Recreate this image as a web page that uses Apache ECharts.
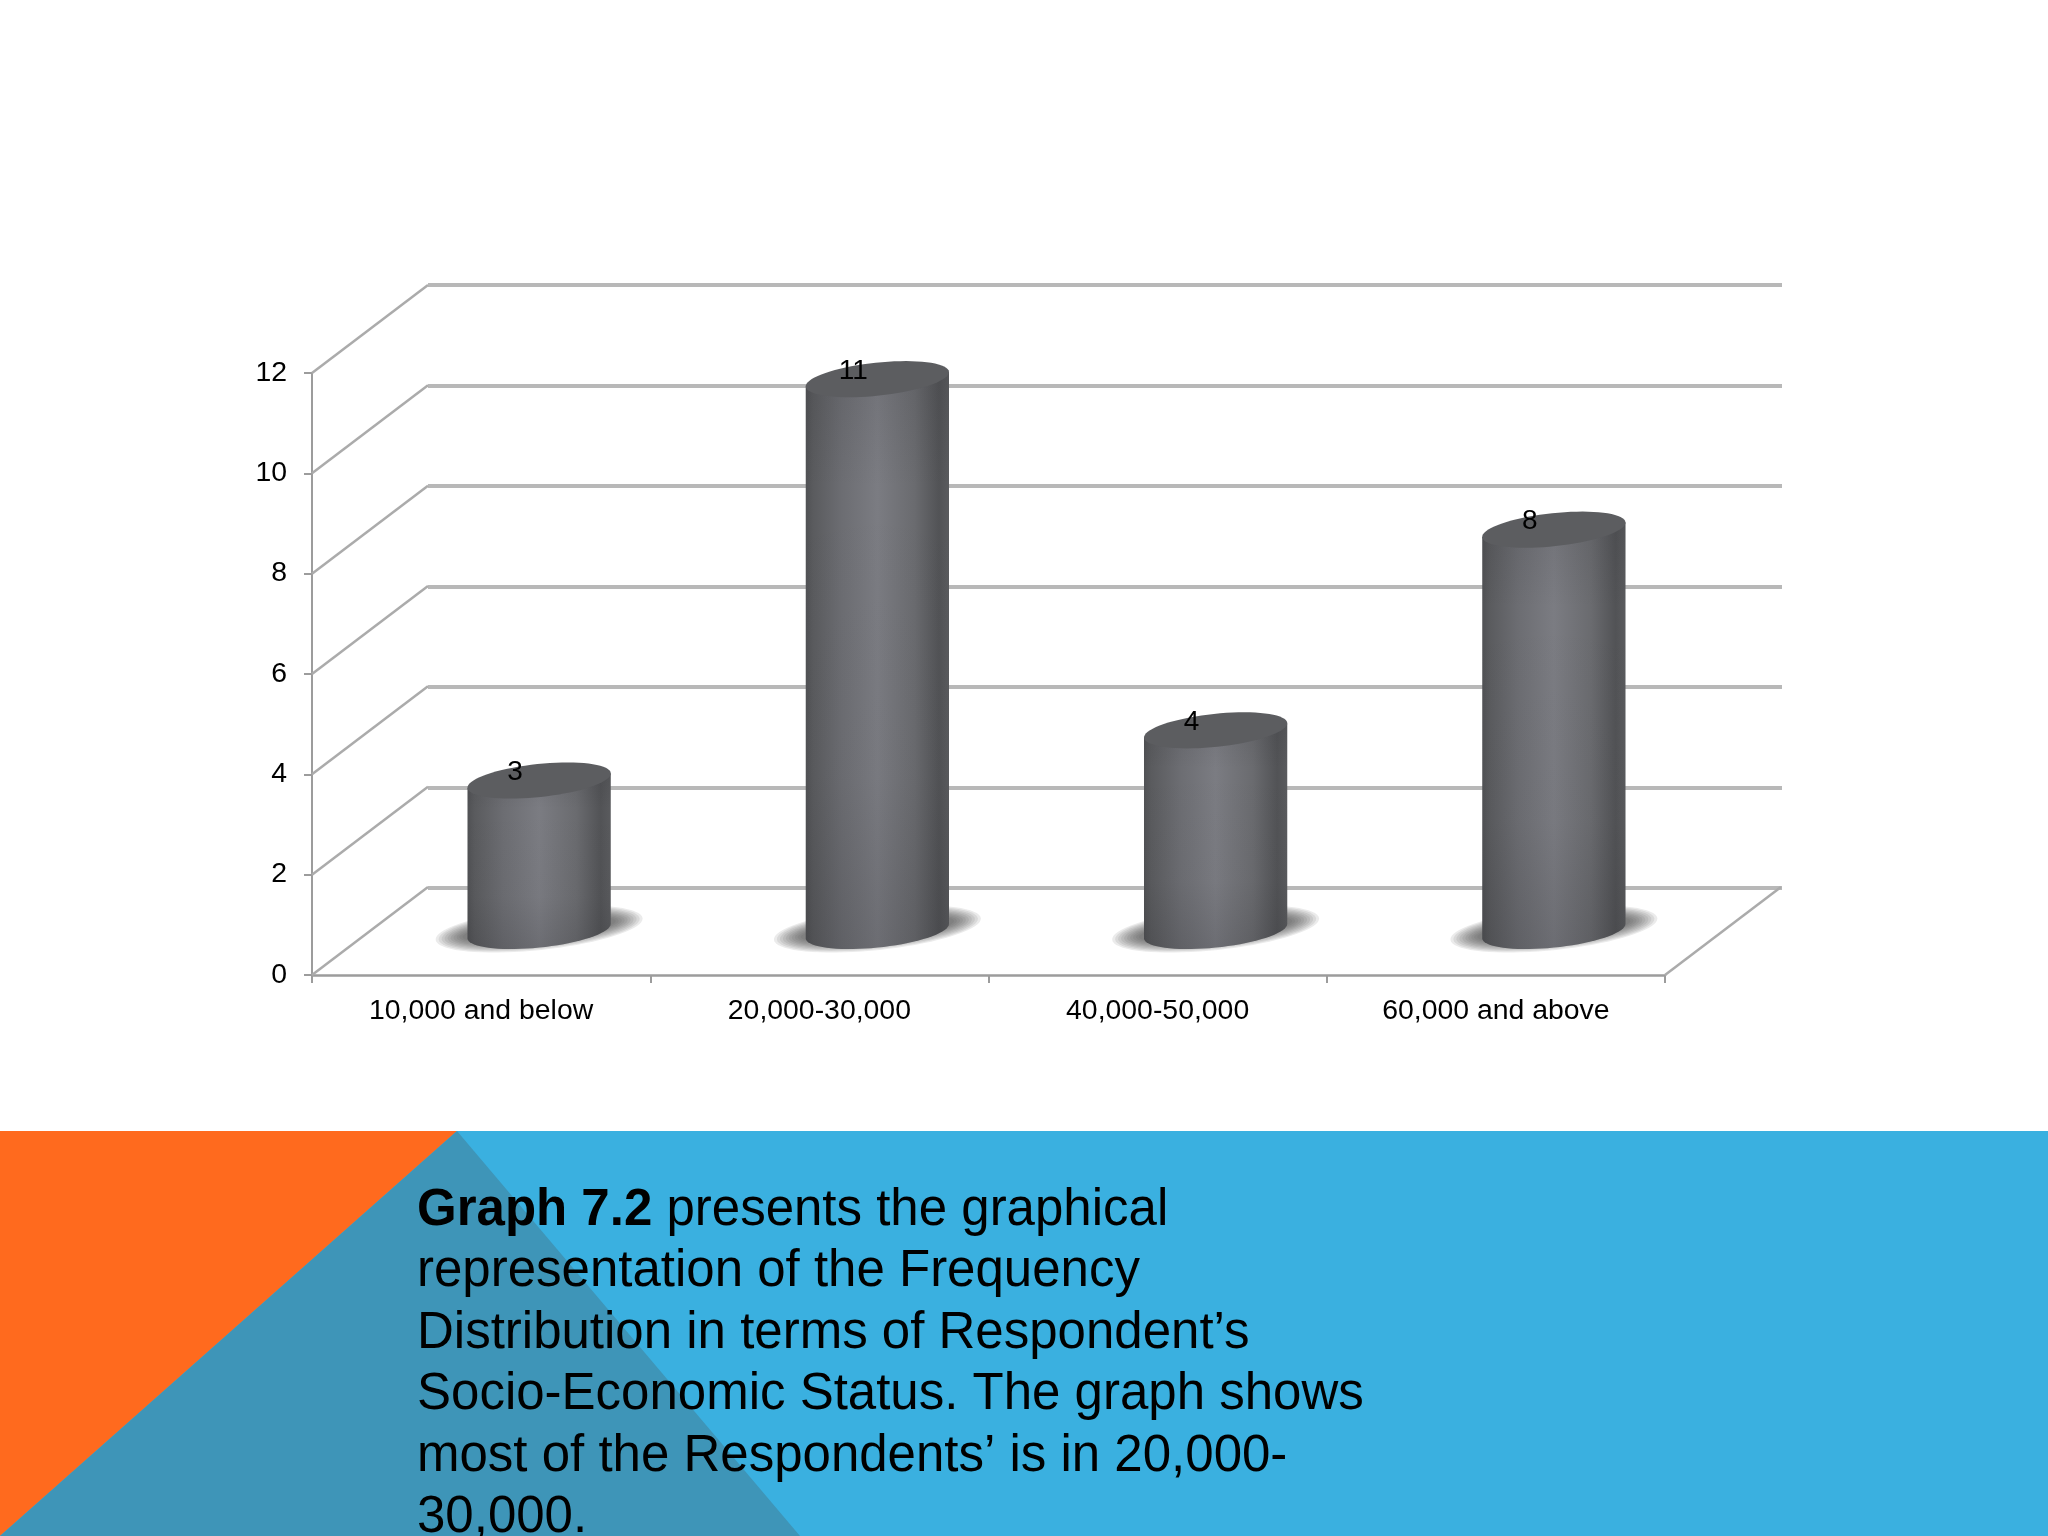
<!DOCTYPE html>
<html><head><meta charset="utf-8">
<style>html,body{margin:0;padding:0;background:#fff}#c{width:2048px;height:1536px}</style>
<script src="https://cdn.jsdelivr.net/npm/echarts@6/dist/echarts.min.js"></script>
</head><body><div id="c"></div>
<script>
const categories = ['10,000 and below', '20,000-30,000', '40,000-50,000', '60,000 and above'];
const frequency = [3, 11, 4, 8];
const yTicks = [0, 2, 4, 6, 8, 10, 12];
const captionLines = [
  '{b|Graph 7.2} presents the graphical',
  'representation of the Frequency',
  'Distribution in terms of Respondent’s',
  'Socio-Economic Status. The graph shows',
  'most of the Respondents’ is in 20,000-',
  '30,000.'
];

const FONT = '"Liberation Sans", Arial, sans-serif';
const DEPTH_X = 116, DEPTH_Y = 88;
const TILT = 6 * Math.PI / 180;
const AXIS = '#9c9c9c', WALL = '#b8b8b8';

function tiltedPoint(cx, cy, a, b, t) {
  return [cx + a * Math.cos(t) * Math.cos(TILT) + b * Math.sin(t) * Math.sin(TILT),
          cy - a * Math.cos(t) * Math.sin(TILT) + b * Math.sin(t) * Math.cos(TILT)];
}
function ellipsePts(cx, cy, a, b) {
  const p = [];
  for (let i = 0; i < 72; i++) p.push(tiltedPoint(cx, cy, a, b, i / 72 * 2 * Math.PI));
  return p;
}
const bodyFill = {type: 'linear', x: 0, y: 0, x2: 1, y2: 0, colorStops: [
  {offset: 0, color: '#505154'}, {offset: .05, color: '#5a5b5e'}, {offset: .25, color: '#6c6d72'},
  {offset: .5, color: '#7b7c82'}, {offset: .76, color: '#6a6b6f'}, {offset: .93, color: '#525356'},
  {offset: 1, color: '#5a5b5e'}]};
const shadeFill = {type: 'linear', x: 0, y: 0, x2: 0, y2: 1, colorStops: [
  {offset: 0, color: 'rgba(30,30,34,0.10)'}, {offset: .2, color: 'rgba(30,30,34,0)'},
  {offset: .7, color: 'rgba(30,30,34,0.03)'}, {offset: 1, color: 'rgba(30,30,34,0.16)'}]};

function renderCylinder(params, api) {
  const idx = api.value(0), val = api.value(1);
  const top = api.coord([idx, val]), base = api.coord([idx, 0]);
  const cx = top[0] + DEPTH_X / 2, ty = top[1] - DEPTH_Y / 2, by = base[1] - DEPTH_Y / 2;
  const a = 72, b = 16.5;
  const t0 = Math.atan2(b * Math.sin(TILT), a * Math.cos(TILT));
  const body = [tiltedPoint(cx, ty, a, b, t0)];
  for (let i = 0; i <= 36; i++) body.push(tiltedPoint(cx, by, a, b, t0 + Math.PI * i / 36));
  body.push(tiltedPoint(cx, ty, a, b, t0 + Math.PI));
  const children = [];
  for (let k = 0; k < 10; k++) {
    children.push({type: 'polygon', shape: {points: ellipsePts(cx, by - 2, 104 - k * 3, 21 - k * 1.2)},
      style: {fill: 'rgba(70,70,72,0.11)'}});
  }
  children.push(
    {type: 'polygon', shape: {points: body}, style: {fill: bodyFill}},
    {type: 'polygon', shape: {points: body}, style: {fill: shadeFill}},
    {type: 'polygon', shape: {points: ellipsePts(cx, ty, a, b)}, style: {fill: '#5c5d60'}},
    {type: 'text', x: cx - 24, y: top[1] - 52,
      style: {text: String(val), fill: '#000', font: '28px ' + FONT, align: 'center', verticalAlign: 'middle'}}
  );
  return {type: 'group', children};
}
function renderDiagonal(params, api) {
  const p = api.coord([api.value(0), api.value(1)]);
  const x = p[0] + api.value(2) * api.size([1, 0])[0];
  return {type: 'line', shape: {x1: x, y1: p[1], x2: x + DEPTH_X, y2: p[1] - DEPTH_Y},
    style: {stroke: '#ababab', lineWidth: 2.5}};
}

const graphics = [
  {type: 'rect', silent: true, z: -10, shape: {x: 0, y: 1131, width: 2048, height: 405}, style: {fill: '#3ab0e0'}},
  {type: 'polygon', silent: true, z: -9, shape: {points: [[0, 1131], [457, 1131], [0, 1536]]}, style: {fill: '#ff6a1e'}},
  {type: 'polygon', silent: true, z: -9, shape: {points: [[457, 1131], [800, 1536], [0, 1536]]}, style: {fill: '#3e95b8'}}
];
captionLines.forEach((line, i) => graphics.push({
  type: 'text', z: 5, x: 417, y: 1211 + i * 61.4,
  style: {text: line, fill: '#000', font: '51px ' + FONT, verticalAlign: 'middle',
    rich: {b: {font: 'bold 51px ' + FONT, fill: '#000'}}}
}));

const chart = echarts.init(document.getElementById('c'), null, {renderer: 'canvas'});
chart.setOption({
  animation: false,
  backgroundColor: '#fff',
  graphic: graphics,
  grid: [
    {left: 312, top: 373, width: 1353, height: 602},
    {left: 428, top: 285, width: 1354, height: 603}
  ],
  xAxis: [
    {type: 'category', gridIndex: 0, data: categories, boundaryGap: true,
      axisLine: {lineStyle: {color: AXIS, width: 2.5}},
      axisTick: {show: true, length: 8, alignWithLabel: false, lineStyle: {color: AXIS, width: 2}},
      axisLabel: {color: '#000', fontFamily: FONT, fontSize: 28.4, margin: 22, interval: 0}},
    {type: 'category', gridIndex: 1, data: categories, show: false}
  ],
  yAxis: [
    {type: 'value', gridIndex: 0, min: 0, max: 12, interval: 2,
      axisLine: {show: true, lineStyle: {color: AXIS, width: 2}},
      axisTick: {show: true, length: 8, lineStyle: {color: AXIS, width: 2}},
      axisLabel: {color: '#000', fontFamily: FONT, fontSize: 28.4, margin: 25, verticalAlign: 'middle', padding: [6, 0, 0, 0]},
      splitLine: {show: false}},
    {type: 'value', gridIndex: 1, min: 0, max: 12, interval: 2,
      axisLine: {show: false}, axisTick: {show: false}, axisLabel: {show: false},
      splitLine: {show: true, lineStyle: {color: WALL, width: 4}}}
  ],
  series: [
    {type: 'custom', xAxisIndex: 0, yAxisIndex: 0, clip: false, silent: true, z: 1,
      renderItem: renderDiagonal,
      data: yTicks.map(v => [0, v, -0.5]).concat([[categories.length - 1, 0, 0.5]])},
    {type: 'custom', xAxisIndex: 0, yAxisIndex: 0, clip: false, silent: true, z: 3,
      renderItem: renderCylinder,
      data: frequency.map((v, i) => [i, v])}
  ]
});
</script></body></html>
